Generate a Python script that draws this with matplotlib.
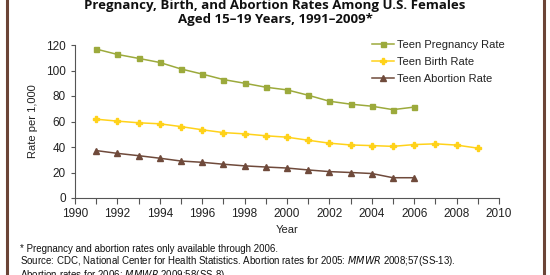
import matplotlib
matplotlib.use("Agg")
import matplotlib.pyplot as plt
from matplotlib.lines import Line2D

years_preg = list(range(1991, 2007))
pregnancy = [116.8, 112.6, 109.5, 106.3, 101.2, 97.2, 92.9, 90.0, 86.9, 84.8, 80.6, 75.9, 73.6, 72.0, 69.3, 71.3]
years_birth = list(range(1991, 2010))
birth = [61.8, 60.3, 59.0, 58.2, 56.0, 53.5, 51.3, 50.3, 48.8, 47.7, 45.3, 43.0, 41.6, 41.1, 40.5, 41.9, 42.5, 41.5, 39.1]
abortion = [37.2, 35.0, 33.2, 31.2, 29.0, 28.0, 26.5, 25.2, 24.3, 23.5, 22.0, 20.7, 20.0, 19.2, 15.9, 15.9]

c_preg = "#9CAA3C"
c_birth = "#FFD21A"
c_abort = "#6F4A3B"
c_frame = "#6B4437"

plt.rcParams['font.family'] = ['Liberation Sans', 'DejaVu Sans']

fig = plt.figure(figsize=(5.5, 2.75), dpi=100)
ax = fig.add_axes([75/550, 1 - 198/275, (499-75)/550, (198-45)/275])

ax.plot(years_preg, pregnancy, color=c_preg, marker='s', markersize=3.6, lw=1.1, label="Teen Pregnancy Rate")
ax.plot(years_birth, birth, color=c_birth, marker='P', markersize=3.8, lw=1.1, label="Teen Birth Rate")
ax.plot(years_preg, abortion, color=c_abort, marker='^', markersize=3.8, lw=1.1, label="Teen Abortion Rate")

ax.set_xlim(1990, 2010)
ax.set_ylim(0, 120)
ax.set_xticks(range(1990, 2011, 2))
ax.set_xticks(range(1990, 2011), minor=True)
ax.set_yticks(range(0, 121, 20))
for s in ['top', 'right']:
    ax.spines[s].set_visible(False)
for s in ['left', 'bottom']:
    ax.spines[s].set_color('#555555')
    ax.spines[s].set_linewidth(0.8)
ax.tick_params(axis='both', which='both', direction='out', color='#555555', width=0.8, labelsize=8.5, labelcolor='#222222')
ax.tick_params(axis='x', which='both', length=4)
ax.tick_params(axis='y', length=3)
ax.set_ylabel("Rate per 1,000", fontsize=8, color='#222222', labelpad=6)
ax.set_xlabel("Year", fontsize=8, color='#222222', labelpad=3)

leg = ax.legend(loc='upper left', bbox_to_anchor=(0.689, 1.06), frameon=False, fontsize=8,
                handlelength=2.0, handletextpad=0.3, labelspacing=0.62, borderaxespad=0)
for t in leg.get_texts():
    t.set_color('#222222')

fig.text(0.5, 1 - 5/275, "Pregnancy, Birth, and Abortion Rates Among U.S. Females",
         ha='center', va='center', fontsize=9.5, fontweight='bold', family=['Open Sans', 'DejaVu Sans'], color='#111111')
fig.text(0.5, 1 - 20/275, "Aged 15\u201319 Years, 1991\u20132009*",
         ha='center', va='center', fontsize=9.5, fontweight='bold', family=['Open Sans', 'DejaVu Sans'], color='#111111')

fig.text(20/550, 1 - 249/275, "* Pregnancy and abortion rates only available through 2006.",
         ha='left', va='center', fontsize=7, color='#111111')
fig.text(20/550, 1 - 261/275, "Source: CDC, National Center for Health Statistics. Abortion rates for 2005: $\\it{MMWR}$ 2008;57(SS-13).",
         ha='left', va='center', fontsize=7, color='#111111')
fig.text(20/550, 1 - 275/275, "Abortion rates for 2006: $\\it{MMWR}$ 2009;58(SS-8).",
         ha='left', va='center', fontsize=7, color='#111111')

fig.add_artist(Line2D([7/550, 7/550], [0, 1], color=c_frame, lw=2.2, transform=fig.transFigure))
fig.add_artist(Line2D([544/550, 544/550], [0, 1], color=c_frame, lw=2.2, transform=fig.transFigure))

fig.savefig("out.png", dpi=100)
